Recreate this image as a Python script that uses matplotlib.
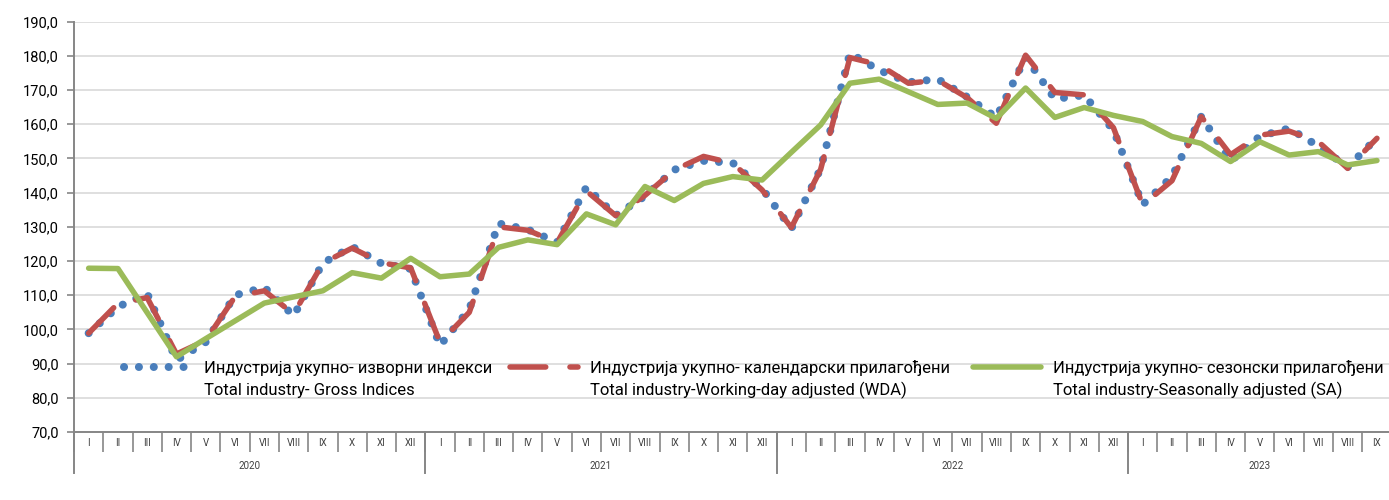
import matplotlib
matplotlib.use('Agg')
import matplotlib.pyplot as plt
from matplotlib.transforms import blended_transform_factory
from matplotlib.legend import Legend
import numpy as np

# ---------------- data ----------------
years = ['2020', '2021', '2022', '2023']
months = ['I', 'II', 'III', 'IV', 'V', 'VI', 'VII', 'VIII', 'IX', 'X', 'XI', 'XII']
month_labels = months * 3 + months[:9]

gross = [98.9, 106.6, 110.5, 91.0, 96.3, 110.0, 112.3, 104.0, 119.4, 124.2, 119.3, 117.7,
         95.3, 105.9, 131.0, 129.2, 125.5, 141.6, 133.3, 139.0, 146.7, 149.3, 148.7, 141.2,
         129.5, 147.0, 180.8, 175.8, 172.3, 173.2, 168.0, 162.0, 179.6, 167.4, 168.5, 158.3,
         136.5, 144.7, 162.3, 149.2, 156.5, 158.8, 153.6, 147.5, 156.0]

wda = [98.9, 107.6, 109.3, 92.8, 96.8, 109.6, 111.3, 104.5, 119.4, 123.8, 119.5, 118.0,
       96.2, 105.0, 130.0, 129.0, 125.4, 140.5, 133.3, 139.2, 146.6, 150.6, 148.6, 140.8,
       129.8, 146.8, 179.5, 177.4, 172.0, 172.9, 167.8, 160.3, 180.2, 169.3, 168.6, 159.0,
       136.4, 143.5, 162.2, 151.1, 156.8, 158.0, 154.9, 147.1, 155.9]

sa = [117.9, 117.8, 104.9, 92.0, 97.3, 102.5, 107.7, 109.5, 111.3, 116.6, 115.0, 120.8,
      115.4, 116.2, 124.0, 126.2, 124.8, 133.8, 130.6, 141.8, 137.7, 142.7, 144.7, 143.7,
      151.8, 159.8, 172.0, 173.2, 169.5, 165.8, 166.2, 161.7, 170.6, 162.0, 164.9, 162.6,
      160.8, 156.4, 154.4, 149.1, 154.9, 151.0, 152.0, 148.1, 149.4]

y_ticks = list(range(70, 191, 10))

legend_sr = ['Индустрија укупно- изворни индекси',
             'Индустрија укупно- календарски прилагођени',
             'Индустрија укупно- сезонски прилагођени']
legend_en = ['Total industry- Gross Indices',
             'Total industry-Working-day adjusted (WDA)',
             'Total industry-Seasonally adjusted (SA)']

# ---------------- style ----------------
plt.rcParams['font.family'] = ['Roboto', 'DejaVu Sans']
BLUE, RED, GREEN = '#4a7ebb', '#c0504d', '#9bbb59'
AXC = '#868686'
PX = 72 / 100.0  # points per pixel
LEG_FS = 12

W, H = 1389, 500
fig = plt.figure(figsize=(W / 100, H / 100), dpi=100)
ax = fig.add_axes([74 / W, 1 - 432 / H, (1391.6 - 74) / W, (432 - 21.7) / H])

x = np.arange(len(gross))
l_g, = ax.plot(x, gross, color=BLUE, lw=8 * PX, linestyle=(0, (0.01, 1.85)),
               dash_capstyle='round', zorder=3)
l_w, = ax.plot(x, wda, color=RED, lw=5.5 * PX, linestyle=(0, (6.5, 4.4)),
               dash_capstyle='round', zorder=4)
l_s, = ax.plot(x, sa, color=GREEN, lw=5.5 * PX, solid_capstyle='round',
               solid_joinstyle='round', zorder=5)

ax.set_xlim(-0.5, len(gross) - 0.5)
ax.set_ylim(70, 190)
ax.set_yticks(y_ticks)
ax.set_yticklabels([f'{v:.1f}'.replace('.', ',') for v in y_ticks])
ax.yaxis.grid(True, color='#d9d9d9', lw=1.2)
ax.set_axisbelow(True)
for s in ['top', 'right']:
    ax.spines[s].set_visible(False)
for s in ['left', 'bottom']:
    ax.spines[s].set_color(AXC)
    ax.spines[s].set_linewidth(1.4)
ax.tick_params(axis='y', direction='out', length=7 * PX, width=1.2, color=AXC,
               labelsize=10.5, pad=8 * PX, labelcolor='#000000')

# month labels (major, no tick) and separators (minor)
ax.set_xticks(x)
ax.set_xticklabels(month_labels)
ax.tick_params(axis='x', which='major', length=0, labelsize=7, pad=6 * PX,
               labelcolor='#404040')
ax.set_xticks(np.arange(-0.5, len(gross), 1), minor=True)
ax.tick_params(axis='x', which='minor', direction='out', length=20 * PX, width=1.2,
               color=AXC)

trans = blended_transform_factory(ax.transData, ax.transAxes)
year_start = [0, 12, 24, 36]
year_end = [11, 23, 35, len(gross) - 1]
for yr, a, b in zip(years, year_start, year_end):
    ax.text((a + b) / 2, -(466 - 432) / 410.3, yr, transform=trans, ha='center',
            va='center', fontsize=7, color='#404040')
    ax.plot([a - 0.5, a - 0.5], [0, -(473 - 432) / 410.3], transform=trans,
            color=AXC, lw=1.4, clip_on=False, zorder=1)

# legends: three single-entry legends, English line added below
handles = [l_g, l_w, l_s]
starts_px = [124, 510, 973]
fs_px = LEG_FS / PX
legs = []
for h, lab, sx in zip(handles, legend_sr, starts_px):
    lg = Legend(ax, [h], [lab], loc='center left',
                bbox_to_anchor=((sx - 74) / (1391.6 - 74), (432 - 368) / 410.3),
                frameon=False, fontsize=LEG_FS, handlelength=68 / fs_px,
                handletextpad=12 / fs_px, borderpad=0, borderaxespad=0)
    legs.append(lg)
    ax.add_artist(lg)

fig.canvas.draw()
r = fig.canvas.get_renderer()
for lg, en in zip(legs, legend_en):
    t = lg.get_texts()[0]
    bb = t.get_window_extent(r)
    fig.text(bb.x0 / W, ((bb.y0 + bb.y1) / 2 - 22) / H, en, ha='left', va='center',
             fontsize=LEG_FS, color='#000000')

fig.savefig('out.png', dpi=100, facecolor='white')
